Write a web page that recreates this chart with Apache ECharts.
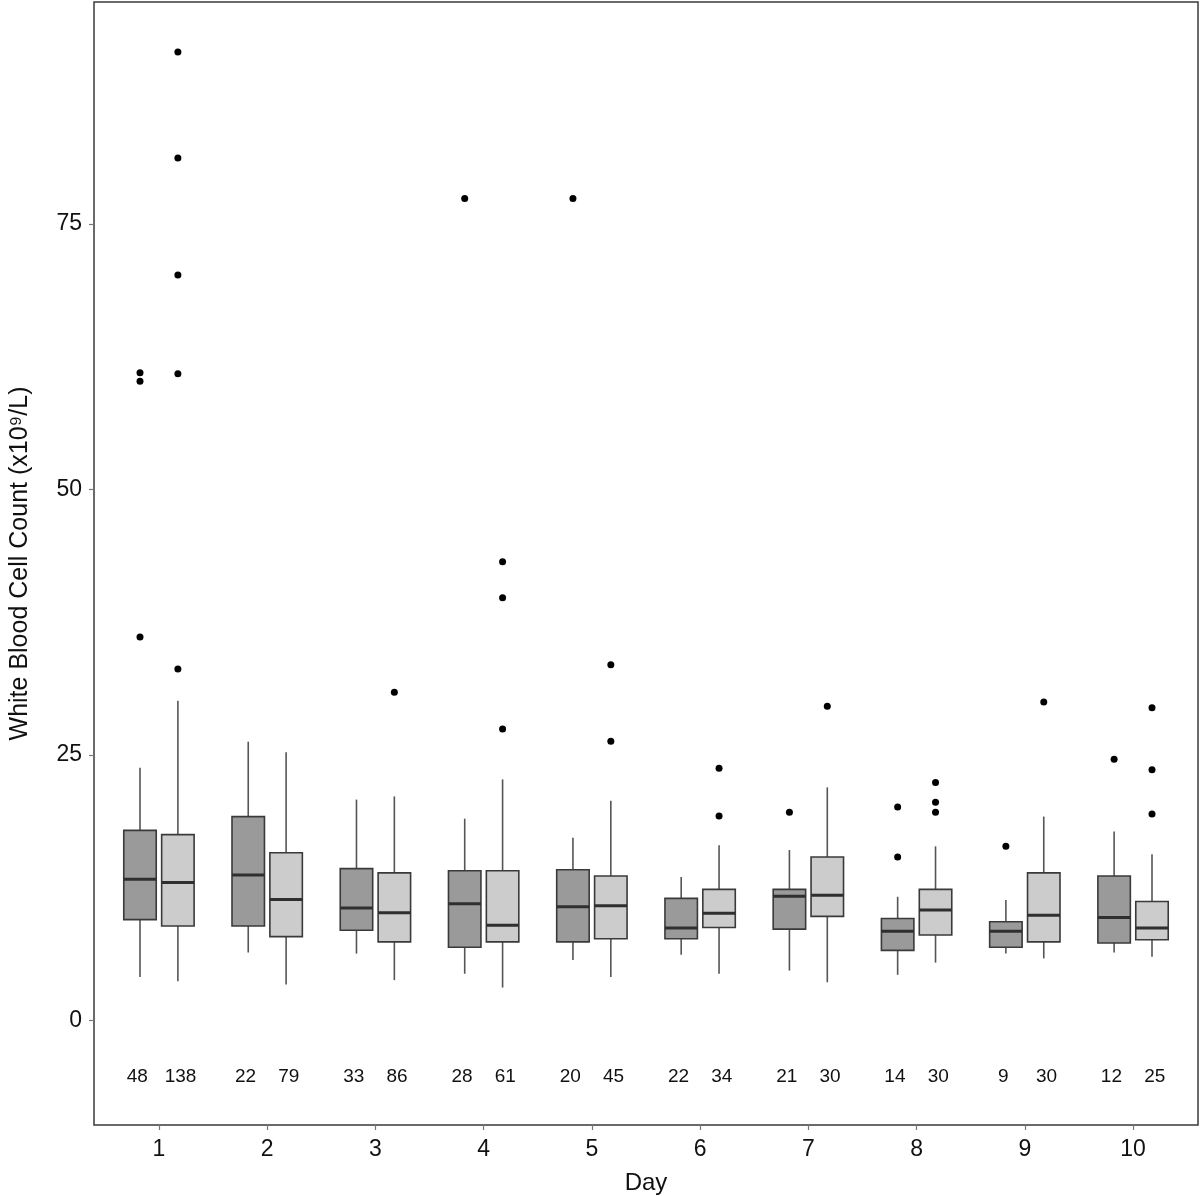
<!DOCTYPE html>
<html>
<head>
<meta charset="utf-8">
<script src="https://cdn.jsdelivr.net/npm/echarts@6/dist/echarts.min.js"></script>
<style>html,body{margin:0;padding:0;background:#fff}#c{width:1200px;height:1196px}</style>
</head>
<body>
<div id="c"></div>
<script>
// ---- data ----
const days = [1, 2, 3, 4, 5, 6, 7, 8, 9, 10];
const dayLabels = ['1','2','3','4','5','6','7','8','9','10'];
const yTicks = [0, 25, 50, 75];

// group A (dark grey)
const darkMin    = [4.1, 6.4, 6.3, 4.4, 5.7, 6.2, 4.7, 4.3, 6.3, 6.4];
const darkQ1     = [9.5, 8.9, 8.5, 6.9, 7.4, 7.7, 8.6, 6.6, 6.9, 7.3];
const darkMedian = [13.3, 13.7, 10.6, 11.0, 10.7, 8.7, 11.7, 8.4, 8.4, 9.7];
const darkQ3     = [17.9, 19.2, 14.3, 14.1, 14.2, 11.5, 12.35, 9.6, 9.3, 13.6];
const darkMax    = [23.8, 26.25, 20.8, 19.0, 17.2, 13.5, 16.05, 11.65, 11.35, 17.8];
const darkOutliers = [[36.1, 60.2, 61.0], [], [], [77.4], [77.4], [], [19.6], [20.1, 15.4], [16.4], [24.6]];
const darkN = [48, 22, 33, 28, 20, 22, 21, 14, 9, 12];

// group B (light grey)
const lightMin    = [3.7, 3.4, 3.8, 3.1, 4.1, 4.4, 3.6, 5.45, 5.85, 6.0];
const lightQ1     = [8.9, 7.9, 7.4, 7.4, 7.7, 8.75, 9.8, 8.05, 7.4, 7.6];
const lightMedian = [13.0, 11.4, 10.15, 8.96, 10.8, 10.1, 11.8, 10.4, 9.9, 8.7];
const lightQ3     = [17.5, 15.8, 13.9, 14.1, 13.6, 12.35, 15.4, 12.35, 13.9, 11.2];
const lightMax    = [30.1, 25.25, 21.1, 22.7, 20.7, 16.5, 21.95, 16.4, 19.2, 15.65];
const lightOutliers = [[33.1, 60.9, 70.2, 81.2, 91.2], [], [30.9], [27.45, 39.8, 43.2], [26.3, 33.5], [19.25, 23.75], [29.6], [19.6, 20.55, 22.4], [30.0], [19.45, 23.6, 29.45]];
const lightN = [138, 79, 86, 61, 45, 34, 30, 30, 30, 25];

// ---- layout constants ----
const OFFSET = 0.175;
const LABEL_OFFSET = 0.2;
const HALF = 0.15;
const COUNT_Y = -5.3;

function boxData(mn, q1, md, q3, mx) {
  return days.map((d, i) => [d, mn[i], q1[i], md[i], q3[i], mx[i]]);
}
function makeRender(offset, fill) {
  return function (params, api) {
    const x = api.value(0) + offset;
    const mn = api.value(1), q1 = api.value(2), md = api.value(3), q3 = api.value(4), mx = api.value(5);
    const tl = api.coord([x - HALF, q3]);
    const br = api.coord([x + HALF, q1]);
    const pMax = api.coord([x, mx]);
    const pMin = api.coord([x, mn]);
    const mdL = api.coord([x - HALF, md]);
    const mdR = api.coord([x + HALF, md]);
    const wStyle = { stroke: '#555', lineWidth: 1.6 };
    return {
      type: 'group',
      children: [
        { type: 'line', shape: { x1: pMax[0], y1: pMax[1], x2: pMax[0], y2: tl[1] }, style: wStyle },
        { type: 'line', shape: { x1: pMin[0], y1: br[1], x2: pMin[0], y2: pMin[1] }, style: wStyle },
        { type: 'rect', shape: { x: tl[0], y: tl[1], width: br[0] - tl[0], height: br[1] - tl[1] },
          style: { fill: fill, stroke: '#3a3a3a', lineWidth: 1.6 } },
        { type: 'line', shape: { x1: mdL[0], y1: mdL[1], x2: mdR[0], y2: mdR[1] },
          style: { stroke: '#2f2f2f', lineWidth: 3 } }
      ]
    };
  };
}
function outlierData(list, offset) {
  const out = [];
  list.forEach((vals, i) => vals.forEach(v => out.push([days[i] + offset, v])));
  return out;
}
function countData(ns, offset) {
  return days.map((d, i) => [d + offset, COUNT_Y, ns[i]]);
}

const chart = echarts.init(document.getElementById('c'), null, { renderer: 'canvas' });
const FONT = 'Liberation Sans, Arial, sans-serif';
const countLabel = { show: true, position: 'inside', formatter: p => String(p.value[2]), fontSize: 19, color: '#111', fontFamily: FONT };
chart.setOption({
  animation: false,
  backgroundColor: '#fff',
  textStyle: { fontFamily: FONT },
  grid: { left: 94, right: 2, top: 2, bottom: 71, outerBoundsMode: 'none', containLabel: false,
    show: true, borderColor: '#3a3a3a', borderWidth: 1.5, backgroundColor: '#fff' },
  xAxis: {
    type: 'value', min: 0.4, max: 10.6,
    name: 'Day', nameLocation: 'middle', nameGap: 46,
    nameTextStyle: { fontSize: 24, color: '#111', fontFamily: FONT },
    axisLine: { show: false, onZero: false },
    axisTick: { show: true, length: 5, lineStyle: { color: '#777', width: 1.2 }, customValues: days },
    axisLabel: { fontSize: 23, color: '#111', margin: 13, fontFamily: FONT, customValues: days,
      formatter: v => dayLabels[days.indexOf(v)] },
    splitLine: { show: false }
  },
  yAxis: {
    type: 'value', min: -9.84, max: 95.9,
    name: 'White Blood Cell Count (x10⁹/L)', nameLocation: 'middle', nameGap: 61, nameRotate: 90,
    nameTextStyle: { fontSize: 25, color: '#111', fontFamily: FONT },
    axisLine: { show: false, onZero: false },
    axisTick: { show: true, length: 5, lineStyle: { color: '#777', width: 1.2 }, customValues: yTicks },
    axisLabel: { fontSize: 23, color: '#111', margin: 12, fontFamily: FONT, customValues: yTicks },
    splitLine: { show: false }
  },
  series: [
    { type: 'custom', name: 'A', renderItem: makeRender(-OFFSET, '#9a9a9a'),
      data: boxData(darkMin, darkQ1, darkMedian, darkQ3, darkMax), encode: { x: 0, y: [1, 2, 3, 4, 5] }, z: 2 },
    { type: 'custom', name: 'B', renderItem: makeRender(OFFSET, '#cccccc'),
      data: boxData(lightMin, lightQ1, lightMedian, lightQ3, lightMax), encode: { x: 0, y: [1, 2, 3, 4, 5] }, z: 2 },
    { type: 'scatter', data: outlierData(darkOutliers, -OFFSET), symbol: 'circle', symbolSize: 7,
      itemStyle: { color: '#000', opacity: 1 }, z: 3 },
    { type: 'scatter', data: outlierData(lightOutliers, OFFSET), symbol: 'circle', symbolSize: 7,
      itemStyle: { color: '#000', opacity: 1 }, z: 3 },
    { type: 'scatter', data: countData(darkN, -LABEL_OFFSET), symbolSize: 0, silent: true,
      itemStyle: { opacity: 1 }, label: countLabel },
    { type: 'scatter', data: countData(lightN, LABEL_OFFSET), symbolSize: 0, silent: true,
      itemStyle: { opacity: 1 }, label: countLabel }
  ]
});
</script>
</body>
</html>
